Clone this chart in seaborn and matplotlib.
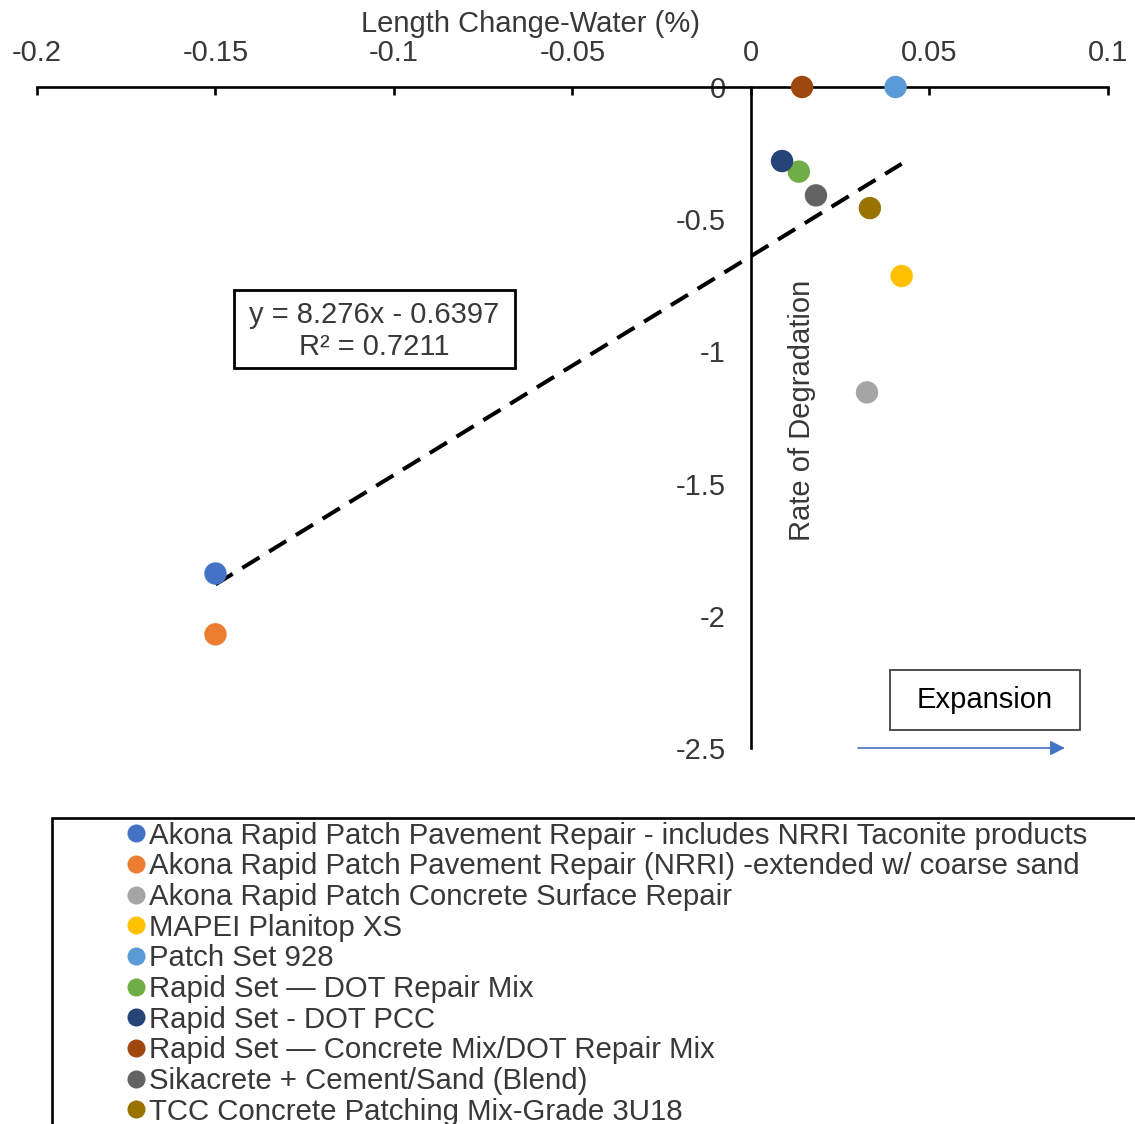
import matplotlib
matplotlib.use('Agg')
import matplotlib.pyplot as plt
import seaborn as sns
import pandas as pd
from matplotlib.lines import Line2D
from matplotlib.patches import Rectangle

# data
products = ['Akona Rapid Patch Pavement Repair - includes NRRI Taconite products',
            'Akona Rapid Patch Pavement Repair (NRRI) -extended w/ coarse sand',
            'Akona Rapid Patch Concrete Surface Repair',
            'MAPEI Planitop XS',
            'Patch Set 928',
            'Rapid Set \u2014 DOT Repair Mix',
            'Rapid Set - DOT PCC',
            'Rapid Set \u2014 Concrete Mix/DOT Repair Mix',
            'Sikacrete + Cement/Sand (Blend)',
            'TCC Concrete Patching Mix-Grade 3U18']
length_change = [-0.15, -0.15, 0.0325, 0.0422, 0.0405, 0.0134, 0.0087, 0.0143, 0.0182, 0.0333]
degradation = [-1.84, -2.07, -1.155, -0.715, 0.0, -0.32, -0.28, 0.0, -0.41, -0.458]
colors = ['#4472C4', '#ED7D31', '#A5A5A5', '#FFC000', '#5B9BD5',
          '#70AD47', '#264478', '#9E480E', '#636363', '#997300']

# trendline from the chart label
slope = 8.276
intercept = -0.6397
r2 = 0.7211

x_ticks = [-0.2, -0.15, -0.1, -0.05, 0, 0.05, 0.1]
x_tick_labels = ['-0.2', '-0.15', '-0.1', '-0.05', '0', '0.05', '0.1']
y_ticks = [0, -0.5, -1, -1.5, -2, -2.5]
y_tick_labels = ['0', '-0.5', '-1', '-1.5', '-2', '-2.5']

df = pd.DataFrame({'product': products, 'x': length_change, 'y': degradation})

sns.set_style('white')
plt.rcParams['font.family'] = ['Liberation Sans', 'DejaVu Sans']
plt.rcParams['axes.unicode_minus'] = False
txt_color = '#383838'
fs = 21

fig = plt.figure(figsize=(11.35, 11.24), dpi=100)
ax = fig.add_axes([0.0326, 0.3345, 0.9436, 0.5881])

sns.scatterplot(data=df, x='x', y='y', hue='product', hue_order=products,
                palette=colors, s=260, linewidth=0, legend=False, ax=ax, zorder=5)
for c in ax.collections:
    c.set_clip_on(False)

# linear trendline
xs = [min(length_change), max(length_change)]
ys = [slope * v + intercept for v in xs]
ax.plot(xs, ys, color='black', lw=2.9, dashes=(5, 2.8), zorder=4)

ax.set_xlim(-0.2, 0.1)
ax.set_ylim(-2.5, 0)

ax.spines['right'].set_visible(False)
ax.spines['bottom'].set_visible(False)
ax.spines['left'].set_position(('data', 0))
for sp in ['top', 'left']:
    ax.spines[sp].set_linewidth(1.9)
    ax.spines[sp].set_color('black')

ax.xaxis.set_ticks_position('top')
ax.xaxis.set_label_position('top')
ax.set_xticks(x_ticks)
ax.set_xticklabels(x_tick_labels)
ax.set_yticks(y_ticks)
ax.set_yticklabels(y_tick_labels)
ax.tick_params(axis='both', direction='in', length=6, width=1.9, color='black',
               labelsize=fs, labelcolor=txt_color)
ax.tick_params(axis='x', pad=14.5)
ax.tick_params(axis='y', pad=18)

ax.set_xlabel('Length Change-Water (%)', fontsize=fs, color=txt_color)
ax.xaxis.set_label_coords(0.461, 1.083)
ax.set_ylabel('Rate of Degradation', fontsize=fs, color=txt_color)
ax.yaxis.set_label_coords(0.727, 0.511)

# equation box
ax.add_patch(Rectangle((0.184, 0.5749), 0.2623, 0.118, transform=ax.transAxes,
                       fill=True, fc='white', ec='black', lw=2.0, zorder=6))
ax.text(0.3152, 0.6309, f'y = {slope}x - {abs(intercept)}\nR\u00b2 = {r2}',
        transform=ax.transAxes, fontsize=fs, color=txt_color, ha='center', va='center',
        linespacing=1.15, zorder=7)

# expansion note and arrow
ax.add_patch(Rectangle((0.7965, 0.0272), 0.1774, 0.0908, transform=ax.transAxes,
                       fill=True, fc='white', ec='#404040', lw=1.3, clip_on=False, zorder=6))
ax.text(0.8852, 0.0726, 'Expansion', transform=ax.transAxes, fontsize=fs,
        color='black', ha='center', va='center', zorder=7)
ax.annotate('', xy=(0.9598, 0.0), xytext=(0.7666, 0.0), xycoords='axes fraction',
            arrowprops=dict(arrowstyle='-|>', color='#4472C4', lw=1.2,
                            mutation_scale=22, shrinkA=0, shrinkB=0),
            annotation_clip=False)

# legend
handles = [Line2D([], [], marker='o', ls='none', markersize=13, markerfacecolor=c,
                  markeredgewidth=0) for c in colors]
fig.legend(handles, products, loc='upper left', bbox_to_anchor=(112 / 1135, 1 - 807 / 1124),
           frameon=False, fontsize=21.2, labelcolor=txt_color, borderpad=0,
           handlelength=0.6, handletextpad=0.15, labelspacing=0.09)
fig.add_artist(Rectangle((52 / 1135, -0.02), 1.0, 1 - 818 / 1124 + 0.02,
                         transform=fig.transFigure, fill=False, ec='black', lw=1.9,
                         clip_on=False))

fig.savefig('out.png', dpi=100)
